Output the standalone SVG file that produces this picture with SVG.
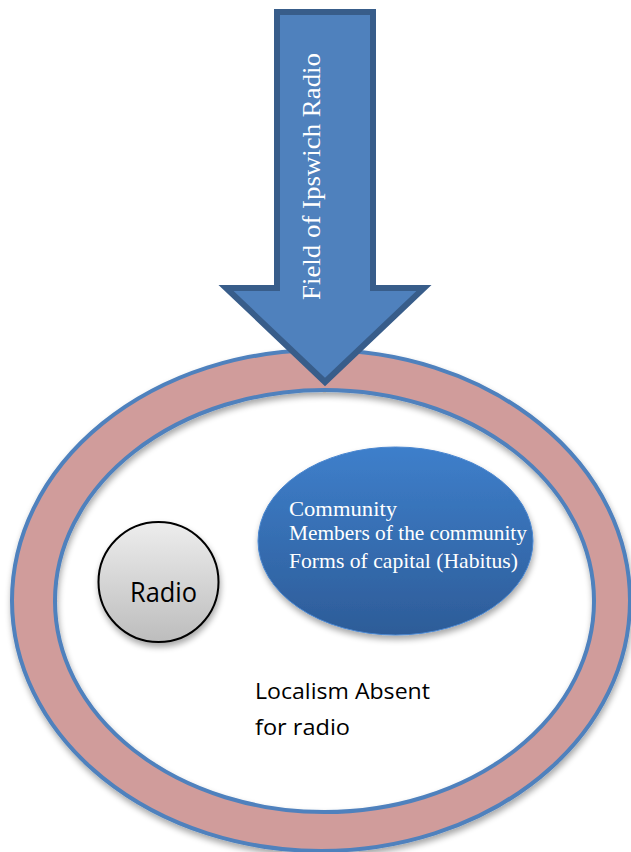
<svg xmlns="http://www.w3.org/2000/svg" width="631" height="852" viewBox="0 0 631 852">
<defs>
<style>
.ring{fill:#D09C9B;stroke:#4F81BD;stroke-width:4;fill-rule:evenodd}
.arrow{fill:#4F81BD;stroke:#385D8A;stroke-width:6;stroke-linejoin:miter}
.serifW{font-family:"Liberation Serif","Times New Roman",serif;fill:#FFFFFF}
.sans{font-family:"Open Sans","Noto Sans",sans-serif;fill:#000000}
</style>
<linearGradient id="gBlue" x1="0" y1="0" x2="0" y2="1">
<stop offset="0" stop-color="#3E7FCB"/>
<stop offset="1" stop-color="#2D5C98"/>
</linearGradient>
<linearGradient id="gGray" x1="0" y1="0" x2="0" y2="1">
<stop offset="0" stop-color="#EDEDED"/>
<stop offset="1" stop-color="#BDBDBD"/>
</linearGradient>
<filter id="shadow" x="-10%" y="-10%" width="125%" height="130%">
<feGaussianBlur in="SourceAlpha" stdDeviation="3"/>
<feOffset dx="1" dy="4" result="b"/>
<feComponentTransfer><feFuncA type="linear" slope="0.35"/></feComponentTransfer>
<feMerge><feMergeNode/><feMergeNode in="SourceGraphic"/></feMerge>
</filter>
</defs>
<rect width="631" height="852" fill="#FFFFFF"/>
<g id="ring" filter="url(#shadow)">
<path class="ring" d="M12,600.5 A309,250.5 0 1 0 630,600.5 A309,250.5 0 1 0 12,600.5 Z M55,601 A269.5,211 0 1 0 594,601 A269.5,211 0 1 0 55,601 Z"/>
</g>
<g id="field-arrow">
<path class="arrow" d="M277,12 L373,12 L373,288 L424,288 L325,382 L226,288 L277,288 Z"/>
<text class="serifW" font-size="26" transform="translate(320,300) rotate(-90)" textLength="247" lengthAdjust="spacingAndGlyphs">Field of Ipswich Radio</text>
</g>
<g id="community" filter="url(#shadow)">
<ellipse cx="395.5" cy="541" rx="137.5" ry="94" fill="url(#gBlue)" stroke="#4A86CF" stroke-width="1"/>
</g>
<g id="community-text">
<text class="serifW" font-size="21" x="289" y="516" textLength="108" lengthAdjust="spacingAndGlyphs">Community</text>
<text class="serifW" font-size="21" x="289" y="540" textLength="238" lengthAdjust="spacingAndGlyphs">Members of the community</text>
<text class="serifW" font-size="21" x="289" y="568" textLength="229" lengthAdjust="spacingAndGlyphs">Forms of capital (Habitus)</text>
</g>
<g id="radio" filter="url(#shadow)">
<ellipse cx="158.5" cy="582" rx="60" ry="60" fill="url(#gGray)" stroke="#000000" stroke-width="2"/>
</g>
<g id="radio-text">
<text class="sans" font-size="27" x="130" y="602" textLength="67" lengthAdjust="spacingAndGlyphs">Radio</text>
</g>
<g id="localism">
<text class="sans" font-size="21" x="255" y="699" textLength="175" lengthAdjust="spacingAndGlyphs">Localism Absent</text>
<text class="sans" font-size="21" x="255" y="735" textLength="95" lengthAdjust="spacingAndGlyphs">for radio</text>
</g>
<g id="connectors"></g>
</svg>
